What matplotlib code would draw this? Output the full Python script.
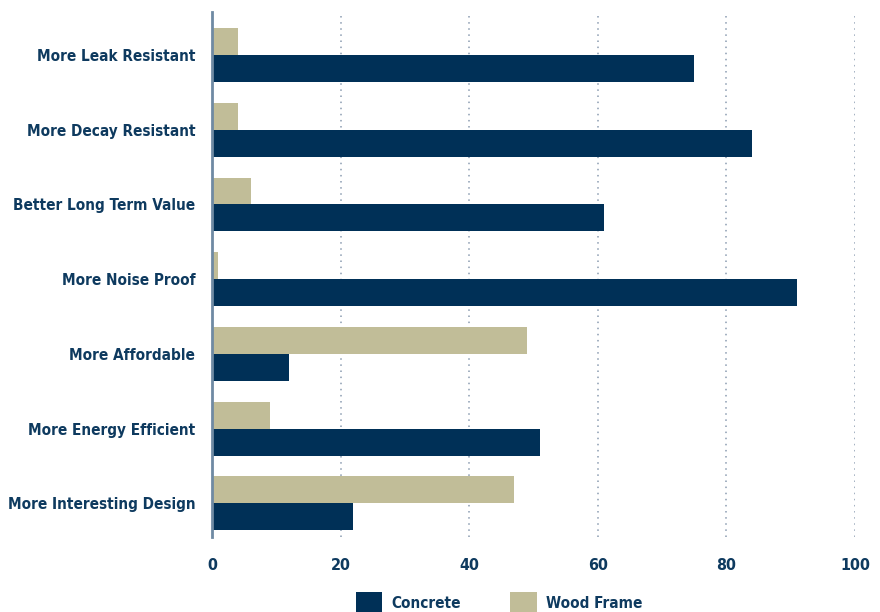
import matplotlib
matplotlib.use("Agg")
import matplotlib.pyplot as plt
import numpy as np
from matplotlib.patches import Patch

CATEGORIES = [
    "More Leak Resistant",
    "More Decay Resistant",
    "Better Long Term Value",
    "More Noise Proof",
    "More Affordable",
    "More Energy Efficient",
    "More Interesting Design",
]
CONCRETE = [75, 84, 61, 91, 12, 51, 22]
WOOD_FRAME = [4, 4, 6, 1, 49, 9, 47]
X_TICKS = [0, 20, 40, 60, 80, 100]

NAVY = "#003057"
TAN = "#c1bd98"
TEXT = "#0e3a5f"

plt.rcParams["font.family"] = ["DejaVu Sans"]
plt.rcParams["font.stretch"] = "condensed"
plt.rcParams["font.weight"] = "bold"

fig = plt.figure(figsize=(8.8, 6.12), dpi=100)
ax = fig.add_axes([212 / 880, 1 - 537 / 612, (855 - 212) / 880, (537 - 12) / 612])

y = np.arange(len(CATEGORIES))
h = 0.36
ax.barh(y - h / 2, WOOD_FRAME, height=h, color=TAN, zorder=2)
ax.barh(y + h / 2, CONCRETE, height=h, color=NAVY, zorder=2)

ax.set_xlim(0, 100)
ax.set_ylim(6.45, -0.576)
ax.set_xticks(X_TICKS)
ax.set_yticks(y)
ax.set_yticklabels(CATEGORIES)
for x in X_TICKS[1:]:
    ax.axvline(x, color="#8a9bb0", linestyle=(0, (1, 3)), linewidth=1.1, zorder=1)

for side in ["top", "right", "bottom"]:
    ax.spines[side].set_visible(False)
ax.spines["left"].set_color("#6f8aa3")
ax.spines["left"].set_linewidth(2)
ax.spines["left"].set_zorder(3)

ax.tick_params(axis="y", length=0, pad=12, labelsize=11, labelcolor=TEXT)
ax.tick_params(axis="x", length=0, pad=15, labelsize=11.5, labelcolor=TEXT)

handles = [Patch(facecolor=NAVY, label="Concrete"), Patch(facecolor=TAN, label="Wood Frame")]
fig.legend(handles=handles, loc="center", bbox_to_anchor=(499 / 880, 1 - 603 / 612), ncol=2,
           frameon=False, fontsize=11, handlelength=1.75, handleheight=1.75,
           columnspacing=3.2, handletextpad=0.6, labelcolor=TEXT, borderpad=0)

fig.savefig("out.png", dpi=100)
